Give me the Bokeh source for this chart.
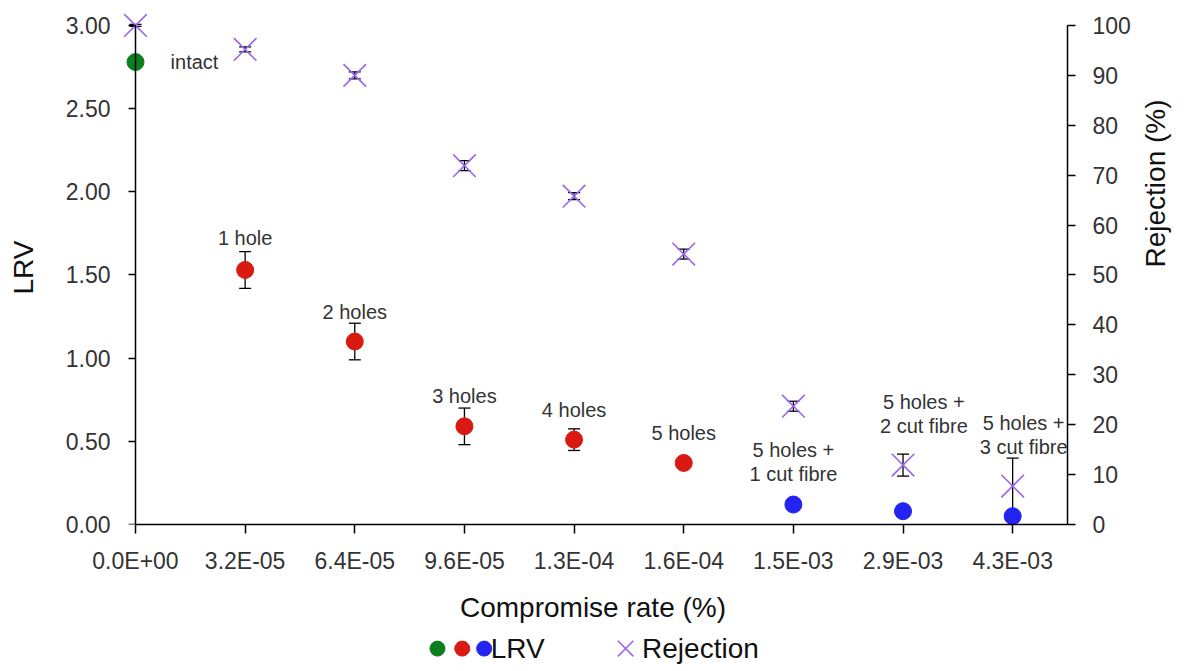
import math
from bokeh.plotting import figure
from bokeh.models import (Range1d, LinearAxis, FixedTicker, ColumnDataSource,
                          Whisker, TeeHead, NumeralTickFormatter)
from bokeh.core.properties import value
from bokeh.layouts import column
from bokeh.embed import file_html
from bokeh.resources import INLINE

# ---------------- data ----------------
rates = ["0.0E+00", "3.2E-05", "6.4E-05", "9.6E-05", "1.3E-04",
         "1.6E-04", "1.5E-03", "2.9E-03", "4.3E-03"]
conditions = ["intact", "1 hole", "2 holes", "3 holes", "4 holes", "5 holes",
              "5 holes +\n1 cut fibre", "5 holes +\n2 cut fibre", "5 holes +\n3 cut fibre"]
groups = ["intact", "holes", "holes", "holes", "holes", "holes", "cut", "cut", "cut"]
lrv = [2.78, 1.53, 1.10, 0.59, 0.51, 0.37, 0.12, 0.08, 0.05]
lrv_err = [0.0, 0.11, 0.11, 0.11, 0.065, 0.02, 0.01, 0.03, 0.01]
rejection = [100.0, 95.2, 90.0, 71.9, 65.8, 54.2, 23.7, 11.9, 7.7]
rejection_err = [0.2, 0.5, 0.7, 1.0, 0.7, 1.0, 1.0, 2.2, 5.6]
lrv_ticks = [0.0, 0.5, 1.0, 1.5, 2.0, 2.5, 3.0]
rej_ticks = [0, 10, 20, 30, 40, 50, 60, 70, 80, 90, 100]

# label anchors (annotation layout, data units)
label_x = [0.32, 1, 2, 3, 4, 5, 6, 7.19, 8.1]
label_y = [2.78, 1.72, 1.28, 0.77, 0.69, 0.55, 0.378, 0.663, 0.537]

# ---------------- style ----------------
FONT_NAME = "Liberation Sans"
FONT = value(FONT_NAME)
group_color = {"intact": "#0d7f1f", "holes": "#d91a12", "cut": "#2323f2"}
VIOLET = "#9966ee"
TXT = "#333333"

idx = list(range(len(rates)))
colors = [group_color[g] for g in groups]

W = 1194
p = figure(width=W, height=625,
           x_range=Range1d(-0.155, 8.5), y_range=Range1d(0, 3.09),
           output_backend="svg", toolbar_location=None,
           x_axis_location=None, y_axis_location=None,
           min_border_left=118, min_border_right=W - 1067,
           min_border_top=10, min_border_bottom=100)
p.extra_y_ranges = {"rej": Range1d(0, 103)}
p.outline_line_color = None
p.grid.visible = False
p.background_fill_color = "white"
p.border_fill_color = "white"


def style_axis(ax, tick_out):
    ax.axis_line_color = "black"
    ax.axis_line_width = 1.5
    ax.major_tick_line_color = "black"
    ax.major_tick_line_width = 1.5
    ax.major_tick_in = 0
    ax.major_tick_out = tick_out
    ax.minor_tick_line_color = None
    ax.major_label_text_font = FONT_NAME
    ax.major_label_text_font_size = "23px"
    ax.major_label_text_color = TXT
    ax.axis_label_text_font = FONT_NAME
    ax.axis_label_text_font_size = "28px"
    ax.axis_label_text_font_style = "normal"
    ax.axis_label_text_color = "#111111"


xaxis = LinearAxis(ticker=FixedTicker(ticks=idx),
                   major_label_overrides={i: r for i, r in zip(idx, rates)},
                   bounds=(0, 8.5), axis_label="Compromise rate (%)")
style_axis(xaxis, 9)
xaxis.major_label_standoff = 14
xaxis.axis_label_standoff = 15
p.add_layout(xaxis, "below")

# LRV axis line + tick marks, pinned at x = 0 (marks as minor ticks: no labels)
yline = LinearAxis(ticker=FixedTicker(ticks=[], minor_ticks=lrv_ticks),
                   bounds=(0, 3), fixed_location=0)
style_axis(yline, 7)
yline.minor_tick_line_color = "black"
yline.minor_tick_line_width = 1.5
yline.minor_tick_in = 0
yline.minor_tick_out = 7
p.add_layout(yline, "left")

# LRV tick labels + title
ylab = LinearAxis(ticker=FixedTicker(ticks=lrv_ticks),
                  formatter=NumeralTickFormatter(format="0.00"),
                  axis_label="LRV")
style_axis(ylab, 0)
ylab.axis_line_color = None
ylab.major_tick_line_color = None
ylab.major_label_standoff = 8
ylab.axis_label_standoff = 24
p.add_layout(ylab, "left")

raxis = LinearAxis(y_range_name="rej", ticker=FixedTicker(ticks=rej_ticks),
                   bounds=(0, 100), axis_label="Rejection (%)",
                   axis_label_orientation=math.pi / 2)
style_axis(raxis, 8)
raxis.major_label_standoff = 17
raxis.axis_label_standoff = 22
p.add_layout(raxis, "right")

# LRV error bars (under the points)
keep = [i for i in idx if lrv_err[i] > 0]
src_lerr = ColumnDataSource(dict(
    x=[idx[i] for i in keep],
    lo=[lrv[i] - lrv_err[i] for i in keep],
    hi=[lrv[i] + lrv_err[i] for i in keep]))
p.add_layout(Whisker(source=src_lerr, base="x", lower="lo", upper="hi",
                     dimension="height", line_color="black", line_width=1.3,
                     level="underlay",
                     upper_head=TeeHead(size=12, line_color="black", line_width=1.3),
                     lower_head=TeeHead(size=12, line_color="black", line_width=1.3)))

# LRV points
src_lrv = ColumnDataSource(dict(x=idx, y=lrv, c=colors))
p.scatter("x", "y", source=src_lrv, size=17, fill_color="c", line_color="c")

# Rejection points
src_rej = ColumnDataSource(dict(x=idx, y=rejection))
p.scatter("x", "y", source=src_rej, y_range_name="rej", marker="x", size=32,
          line_color=VIOLET, line_width=1.6)

# Rejection error bars (over the crosses)
src_rerr = ColumnDataSource(dict(
    x=idx,
    lo=[v - e for v, e in zip(rejection, rejection_err)],
    hi=[v + e for v, e in zip(rejection, rejection_err)]))
p.add_layout(Whisker(source=src_rerr, base="x", lower="lo", upper="hi",
                     dimension="height", y_range_name="rej",
                     line_color="black", line_width=1.3,
                     upper_head=TeeHead(size=12, line_color="black", line_width=1.3),
                     lower_head=TeeHead(size=12, line_color="black", line_width=1.3)))

# Condition labels
p.text(x=label_x[:1], y=label_y[:1], text=conditions[:1], text_font=FONT,
       text_font_size="20px", text_color=TXT, text_align="left",
       text_baseline="middle")
p.text(x=label_x[1:], y=label_y[1:], text=conditions[1:], text_font=FONT,
       text_font_size="20px", text_color=TXT, text_align="center",
       text_baseline="middle", text_line_height=1.1)

# ---------------- legend strip (frame aligned with the chart's) ----------------
lg = figure(width=W, height=42, x_range=p.x_range, y_range=Range1d(0, 1),
            output_backend="svg", toolbar_location=None,
            x_axis_location=None, y_axis_location=None, min_border=0)
lg.outline_line_color = None
lg.grid.visible = False
lg.scatter([2.754, 2.98, 3.18], [0.45, 0.45, 0.45], size=15,
           color=[group_color["intact"], group_color["holes"], group_color["cut"]])
lg.text([3.24], [0.45], text=["LRV"], text_font=FONT, text_font_size="28px",
        text_color="#111111", text_baseline="middle", text_align="left")
lg.scatter([4.47], [0.45], marker="x", size=22, line_color=VIOLET, line_width=1.5)
lg.text([4.62], [0.45], text=["Rejection"], text_font=FONT, text_font_size="28px",
        text_color="#111111", text_baseline="middle", text_align="left")

layout = column(p, lg, spacing=0)
open("out.html", "w").write(file_html(layout, INLINE))
